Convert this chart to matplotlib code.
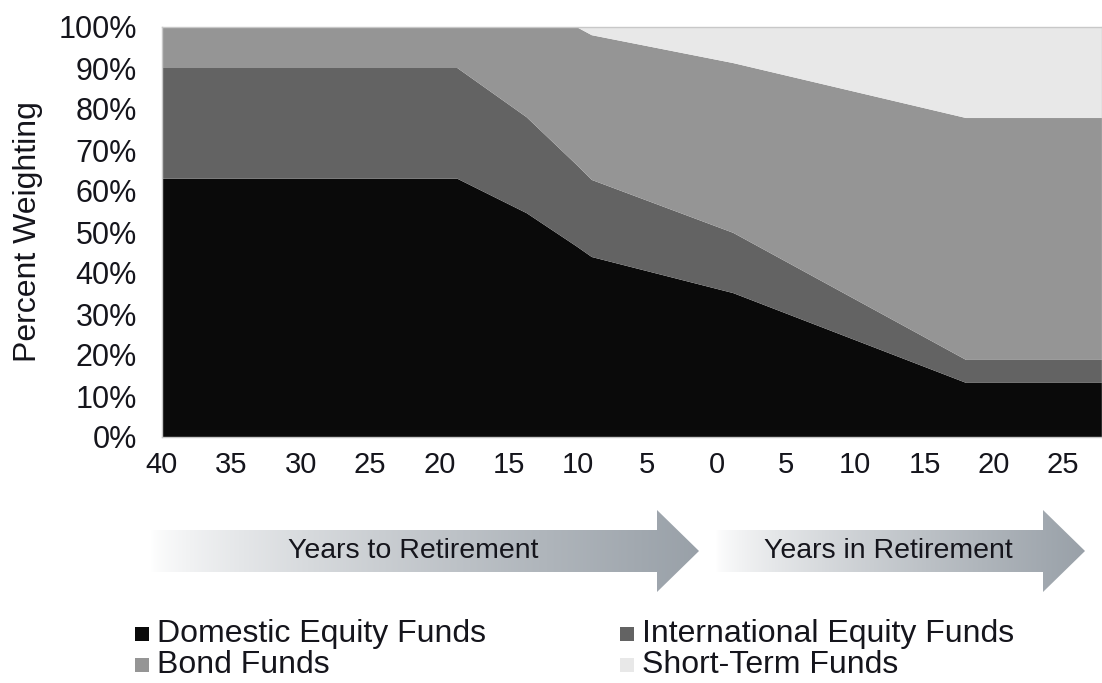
import numpy as np
import matplotlib.pyplot as plt
from matplotlib.patches import Polygon, Rectangle

plt.rcParams['font.family'] = ['Liberation Sans', 'DejaVu Sans']

# glide path: signed years (negative = before retirement), percent weights
years = [-40, -18.7, -13.7, -10.1, -9.0, 1.2, 18.0, 27.8]
domestic = [63, 63, 54.6, 46.5, 43.9, 35.1, 13.2, 13.2]
international = [27, 27, 23.4, 19.9, 18.8, 14.7, 5.6, 5.6]
bonds = [10, 10, 22.0, 33.6, 35.3, 41.4, 59.0, 59.0]
short_term = [0, 0, 0, 0, 2.0, 8.8, 22.2, 22.2]

series_names = ['Domestic Equity Funds', 'International Equity Funds',
                'Bond Funds', 'Short-Term Funds']
colors = ['#0a0a0a', '#636363', '#959595', '#e8e8e8']

tick_years = np.arange(-40, 30, 5)
tick_labels = [str(abs(t)) for t in tick_years]
y_ticks = np.arange(0, 101, 10)

W, H = 1102, 683
fig = plt.figure(figsize=(W / 100, H / 100), dpi=100)
ax = fig.add_axes([162 / W, (H - 437) / H, (W - 162) / W, 410 / H])

ax.stackplot(years, domestic, international, bonds, short_term,
             colors=colors, linewidth=0)
ax.set_xlim(-40, 27.8)
ax.set_ylim(0, 100)
ax.set_xticks(tick_years)
ax.set_xticklabels(tick_labels)
ax.set_yticks(y_ticks)
ax.set_yticklabels([f'{v}%' for v in y_ticks])
ax.tick_params(axis='x', length=0, labelsize=21, colors='#15151c', pad=10)
ax.tick_params(axis='y', length=0, labelsize=22, colors='#15151c', pad=18)
ax.set_ylabel('Percent Weighting', fontsize=23, color='#15151c')
ax.yaxis.set_label_coords(-119 / (W - 162), 0.5)
for sp in ax.spines.values():
    sp.set_color('#c8c8c8')
    sp.set_linewidth(1)

# overlay in pixel coordinates for the arrows and the legend
ov = fig.add_axes([0, 0, 1, 1])
ov.set_xlim(0, W)
ov.set_ylim(H, 0)
ov.axis('off')


def gradient_arrow(x0, xb, tip, yc, label, tx):
    body, head = 21, 41
    pts = [(x0, yc - body), (xb, yc - body), (xb, yc - head), (tip, yc),
           (xb, yc + head), (xb, yc + body), (x0, yc + body)]
    poly = Polygon(pts, closed=True, facecolor='none', edgecolor='none')
    ov.add_patch(poly)
    g = np.linspace(0, 1, 256) ** 0.75
    start = np.array([1.0, 1.0, 1.0])
    end = np.array([0.60, 0.63, 0.66])
    img = start[None, :] * (1 - g[:, None]) + end[None, :] * g[:, None]
    im = ov.imshow(img[None, :, :], extent=(x0, tip, yc + head, yc - head),
                   aspect='auto', interpolation='bilinear', zorder=1)
    im.set_clip_path(poly)
    ov.text(tx, yc, label, ha='center', va='center', fontsize=20.5,
            color='#15151c', zorder=2)


gradient_arrow(150, 657, 699, 551, 'Years to Retirement', 413)
gradient_arrow(715, 1043, 1085, 551, 'Years in Retirement', 888)

# legend, two columns
legend_pos = [(135, 634), (620, 634), (135, 665), (620, 665)]
for (lx, ly), name, c in zip(legend_pos, series_names, colors):
    ov.add_patch(Rectangle((lx, ly - 7), 14, 14, facecolor=c, edgecolor='none'))
    ov.text(lx + 22, ly, name, ha='left', va='center', fontsize=23,
            color='#15151c')
ov.set_xlim(0, W)
ov.set_ylim(H, 0)

fig.savefig('out.png', dpi=100)
